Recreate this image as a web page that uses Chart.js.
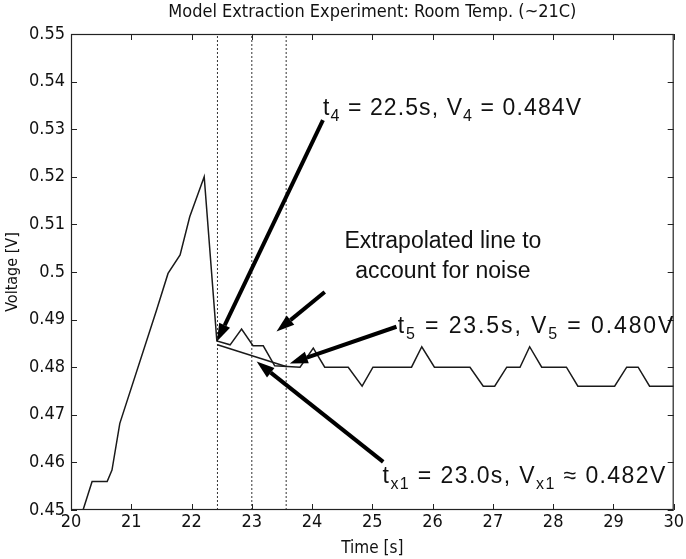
<!DOCTYPE html>
<html><head><meta charset="utf-8">
<script src="https://cdn.jsdelivr.net/npm/chart.js@4.4.0/dist/chart.umd.min.js"></script>
<style>html,body{margin:0;padding:0;background:#fff}#wrap{width:686px;height:559px;position:relative}</style>
</head><body><div id="wrap"><canvas id="c" width="686" height="559"></canvas></div>
<script>
// ---- data ----
const timeS = [20.20, 20.35, 20.60, 20.68, 20.81, 21.42, 21.61, 21.81, 21.97, 22.21, 22.42, 22.64, 22.83, 23.02, 23.19, 23.38, 23.80, 24.02, 24.21, 24.60, 24.83, 25.01, 25.65, 25.82, 26.03, 26.62, 26.84, 27.03, 27.23, 27.45, 27.61, 27.81, 28.22, 28.41, 29.02, 29.22, 29.41, 29.60, 30.00];
const voltageV = [0.450, 0.456, 0.456, 0.4584, 0.4682, 0.492, 0.4997, 0.5036, 0.5116, 0.520, 0.4855, 0.4847, 0.488, 0.4845, 0.4845, 0.4803, 0.480, 0.484, 0.480, 0.480, 0.476, 0.480, 0.480, 0.4843, 0.480, 0.480, 0.476, 0.476, 0.480, 0.480, 0.4843, 0.480, 0.480, 0.476, 0.476, 0.480, 0.480, 0.476, 0.476];
const extrapT = [22.43, 23.58];
const extrapV = [0.4847, 0.4801];
const markerT = [22.43, 23.0, 23.57];
const xTicks = [20, 21, 22, 23, 24, 25, 26, 27, 28, 29, 30];
const yTicks = [0.45, 0.46, 0.47, 0.48, 0.49, 0.50, 0.51, 0.52, 0.53, 0.54, 0.55];
const chartTitle = 'Model Extraction Experiment: Room Temp. (~21C)';
// annotation arrows (tail -> head) in data units
const arrowFromT = [24.18, 24.21, 25.40, 25.18];
const arrowFromV = [0.5319, 0.4958, 0.4885, 0.4601];
const arrowToT   = [22.42, 23.41, 23.63, 23.08];
const arrowToV   = [0.4854, 0.4875, 0.4808, 0.4812];
// annotation texts: parts [text, isSubscript]
const noteParts = [
  [["t",0],["4",1],[" = 22.5s, V",0],["4",1],[" = 0.484V",0]],
  [["Extrapolated line to",0]],
  [["account for noise",0]],
  [["t",0],["5",1],[" = 23.5s, V",0],["5",1],[" = 0.480V",0]],
  [["t",0],["x1",1],[" = 23.0s, V",0],["x1",1],[" \u2248 0.482V",0]]
];
const noteT = [24.18, 26.17, 26.17, 25.42, 25.17];
const noteV = [0.533, 0.505, 0.4987, 0.4872, 0.4557];
const noteAlign = ["left", "center", "center", "left", "left"];
const noteSpacing = [1.1, 0, 0, 1.9, 1.4];

const NARROW = "'Liberation Sans Narrow','DejaVu Sans Condensed',Arial,sans-serif";
const SANS = "'Liberation Sans',Arial,Helvetica,sans-serif";

const verticalSets = markerT.map(t => ({
  data: [{x: t, y: yTicks[0]}, {x: t, y: yTicks[yTicks.length - 1]}],
  borderColor: '#333', borderWidth: 1, borderDash: [2, 2], pointRadius: 0, tension: 0
}));

const annot = {
  id: 'annot',
  afterDatasetsDraw(chart) {
    const {ctx, chartArea: a, scales: {x, y}} = chart;
    ctx.save();
    // title centred over the plot box
    ctx.fillStyle = '#111'; ctx.font = "18px " + NARROW;
    ctx.textAlign = 'center'; ctx.textBaseline = 'middle';
    ctx.fillText(chartTitle, (a.left + a.right) / 2, 12);
    // box
    ctx.strokeStyle = '#222'; ctx.lineWidth = 1.2;
    ctx.strokeRect(a.left + 0.5, a.top + 0.5, a.right - a.left - 1, a.bottom - a.top - 1);
    // inner ticks
    ctx.lineWidth = 1;
    ctx.beginPath();
    xTicks.forEach(v => { const p = Math.round(x.getPixelForValue(v)) + 0.5;
      ctx.moveTo(p, a.bottom); ctx.lineTo(p, a.bottom - 6);
      ctx.moveTo(p, a.top); ctx.lineTo(p, a.top + 6); });
    yTicks.forEach(v => { const p = Math.round(y.getPixelForValue(v)) + 0.5;
      ctx.moveTo(a.left, p); ctx.lineTo(a.left + 6, p);
      ctx.moveTo(a.right, p); ctx.lineTo(a.right - 6, p); });
    ctx.stroke();
    // arrows
    ctx.strokeStyle = '#000'; ctx.fillStyle = '#000';
    for (let i = 0; i < arrowFromT.length; i++) {
      const x0 = x.getPixelForValue(arrowFromT[i]), y0 = y.getPixelForValue(arrowFromV[i]);
      const x1 = x.getPixelForValue(arrowToT[i]), y1 = y.getPixelForValue(arrowToV[i]);
      const ang = Math.atan2(y1 - y0, x1 - x0);
      const L = 18, W = 6;
      const bx = x1 - L * Math.cos(ang), by = y1 - L * Math.sin(ang);
      ctx.lineWidth = 4; ctx.lineCap = 'butt';
      ctx.beginPath(); ctx.moveTo(x0, y0); ctx.lineTo(bx, by); ctx.stroke();
      ctx.beginPath();
      ctx.moveTo(x1, y1);
      ctx.lineTo(bx + W * Math.sin(ang), by - W * Math.cos(ang));
      ctx.lineTo(bx - W * Math.sin(ang), by + W * Math.cos(ang));
      ctx.closePath(); ctx.fill();
    }
    // texts
    const big = "23px " + SANS, small = "16px " + SANS;
    ctx.textBaseline = 'alphabetic'; ctx.textAlign = 'left'; ctx.fillStyle = '#111';
    for (let i = 0; i < noteParts.length; i++) {
      const parts = noteParts[i];
      ctx.letterSpacing = noteSpacing[i] + 'px';
      let w = 0;
      parts.forEach(p => { ctx.font = p[1] ? small : big; w += ctx.measureText(p[0]).width; });
      let px = x.getPixelForValue(noteT[i]);
      const py = y.getPixelForValue(noteV[i]);
      if (noteAlign[i] === 'center') px -= w / 2;
      parts.forEach(p => {
        ctx.font = p[1] ? small : big;
        ctx.fillText(p[0], px, py + (p[1] ? 6 : 0));
        px += ctx.measureText(p[0]).width;
      });
    }
    ctx.letterSpacing = '0px';
    ctx.restore();
  }
};

new Chart(document.getElementById('c'), {
  type: 'line',
  data: {
    datasets: [
      { data: timeS.map((t, i) => ({x: t, y: voltageV[i]})), borderColor: '#1a1a1a', borderWidth: 1.5, pointRadius: 0, tension: 0 },
      { data: extrapT.map((t, i) => ({x: t, y: extrapV[i]})), borderColor: '#1a1a1a', borderWidth: 1.5, pointRadius: 0, tension: 0 },
      ...verticalSets
    ]
  },
  options: {
    responsive: false, animation: false, devicePixelRatio: 1,
    layout: {padding: {left: 0, right: 12, top: 34, bottom: 0}},
    plugins: {
      legend: {display: false}, tooltip: {enabled: false}, title: {display: false}
    },
    scales: {
      x: {
        type: 'linear', min: 20, max: 30,
        afterBuildTicks: s => { s.ticks = xTicks.map(v => ({value: v})); },
        ticks: {color: '#111', font: {family: NARROW, size: 18}, padding: 2, maxRotation: 0, autoSkip: false},
        grid: {display: false, tickLength: 0}, border: {display: false},
        title: {display: true, text: 'Time [s]', color: '#111', font: {family: NARROW, size: 17}, padding: {top: 0, bottom: 0}},
        afterFit: s => { s.height = 49; }
      },
      y: {
        type: 'linear', min: 0.45, max: 0.55,
        afterBuildTicks: s => { s.ticks = yTicks.map(v => ({value: v})); },
        ticks: {color: '#111', font: {family: NARROW, size: 18}, padding: 6, autoSkip: false,
          callback: v => String(Number(v.toFixed(2)))},
        grid: {display: false, tickLength: 0}, border: {display: false},
        title: {display: true, text: 'Voltage [V]', color: '#111', font: {family: NARROW, size: 16}, padding: {top: 3, bottom: 0}},
        afterFit: s => { s.width = 71; }
      }
    }
  },
  plugins: [annot]
});
</script></body></html>
